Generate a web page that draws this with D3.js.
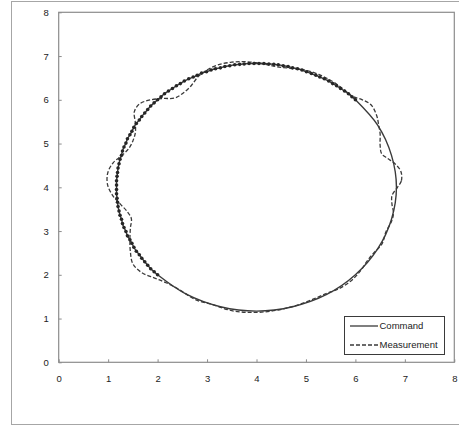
<!DOCTYPE html>
<html>
<head>
<meta charset="utf-8">
<script src="https://cdn.jsdelivr.net/npm/d3@7"></script>
<style>
  html, body { margin: 0; padding: 0; background: #fff; }
  svg { display: block; }
  text { font-family: "Liberation Sans", Arial, sans-serif; fill: #222; }
</style>
</head>
<body>
<svg id="chart" width="459" height="426"></svg>
<script>
// Axis ticks
const xTicks = [0, 1, 2, 3, 4, 5, 6, 7, 8];
const yTicks = [0, 1, 2, 3, 4, 5, 6, 7, 8];

// Command path: densely sampled half (with markers), sparse remaining half
const commandDenseX = [6.00,5.93,5.86,5.78,5.70,5.62,5.54,5.46,5.37,5.28,5.20,5.11,5.01,4.92,4.83,4.73,4.64,4.54,4.44,4.35,4.25,4.15,4.05,
  3.95,3.85,3.75,3.66,3.56,3.46,3.36,3.27,3.17,3.08,2.99,2.89,2.80,2.72,2.63,2.54,2.46,2.38,2.30,2.22,2.14,2.07,2.00,
  1.93,1.86,1.80,1.74,1.68,1.63,1.57,1.52,1.48,1.44,1.39,1.36,1.32,1.29,1.27,1.24,1.22,1.20,1.19,1.18,1.17,1.17,
  1.17,1.17,1.18,1.19,1.20,1.22,1.24,1.27,1.29,1.32,1.36,1.39,1.44,1.48,1.52,1.57,1.63,1.68,1.74,1.80,1.86,1.93,2.00];
const commandDenseY = [6.00,6.07,6.14,6.20,6.26,6.32,6.37,6.43,6.48,6.52,6.56,6.60,6.64,6.68,6.71,6.73,6.76,6.78,6.80,6.81,6.82,6.83,6.83,
  6.83,6.83,6.82,6.81,6.80,6.78,6.76,6.73,6.71,6.68,6.64,6.61,6.56,6.52,6.48,6.43,6.37,6.32,6.26,6.20,6.14,6.07,6.00,
  5.93,5.86,5.78,5.70,5.62,5.54,5.46,5.37,5.28,5.20,5.11,5.01,4.92,4.83,4.73,4.64,4.54,4.44,4.34,4.25,4.15,4.05,
  3.95,3.85,3.75,3.66,3.56,3.46,3.36,3.27,3.17,3.08,2.99,2.89,2.80,2.72,2.63,2.54,2.46,2.38,2.30,2.22,2.14,2.07,2.00];
const commandSparseX = [2.59,3.27,4.00,4.73,5.42,6.00,6.45,6.73,6.83,6.73,6.45];
const commandSparseY = [1.55,1.27,1.17,1.27,1.55,2.00,2.59,3.27,4.00,4.73,5.42];

// Measured path
const measX = [6.85,6.93,6.92,6.80,6.65,6.53,6.50,6.50,6.47,6.43,6.32,6.14,5.94,5.75,5.52,5.26,4.98,4.68,4.39,4.10,
  3.80,3.50,3.20,2.98,2.82,2.67,2.50,2.34,2.11,1.86,1.64,1.53,1.55,1.55,1.50,1.42,1.28,1.10,0.99,0.99,
  1.10,1.25,1.39,1.47,1.45,1.44,1.45,1.50,1.68,1.93,2.17,2.43,2.75,3.13,3.50,3.90,4.30,4.68,5.05,5.41,
  5.68,5.92,6.11,6.24,6.38,6.54,6.62,6.73,6.77,6.74,6.74];
const measY = [4.00,4.15,4.36,4.54,4.66,4.77,4.96,5.22,5.43,5.64,5.88,6.00,6.08,6.25,6.43,6.58,6.68,6.72,6.76,6.83,
  6.87,6.86,6.79,6.67,6.53,6.31,6.14,6.04,6.03,6.00,5.91,5.73,5.47,5.25,5.06,4.89,4.73,4.56,4.32,4.05,
  3.80,3.61,3.44,3.28,3.07,2.80,2.52,2.25,2.05,1.93,1.82,1.67,1.44,1.31,1.18,1.14,1.17,1.26,1.40,1.57,
  1.69,1.87,2.10,2.32,2.51,2.71,2.99,3.22,3.41,3.61,3.81];

const svg = d3.select("#chart");

// outer chart frame
svg.append("rect")
  .attr("x", 11.5).attr("y", 1.5)
  .attr("width", 460).attr("height", 423)
  .attr("fill", "none").attr("stroke", "#a6a6a6").attr("stroke-width", 1);

const x = d3.scaleLinear().domain([0, 8]).range([58.7, 454.3]);
const y = d3.scaleLinear().domain([0, 8]).range([362.3, 12.3]);

// plot area border
svg.append("rect")
  .attr("x", x(0)).attr("y", y(8))
  .attr("width", x(8) - x(0)).attr("height", y(0) - y(8))
  .attr("fill", "none").attr("stroke", "#8c8c8c").attr("stroke-width", 1.2);

const gx = svg.append("g")
  .attr("transform", `translate(0,${y(0)})`)
  .call(d3.axisBottom(x).tickValues(xTicks).tickFormat(d3.format("d"))
    .tickSizeInner(-3).tickSizeOuter(0).tickPadding(13));
const gy = svg.append("g")
  .attr("transform", `translate(${x(0)},0)`)
  .call(d3.axisLeft(y).tickValues(yTicks).tickFormat(d3.format("d"))
    .tickSizeInner(-3).tickSizeOuter(0).tickPadding(10));
[gx, gy].forEach(g => {
  g.select(".domain").remove();
  g.selectAll(".tick line").attr("stroke", "#8c8c8c");
  g.selectAll(".tick text").style("font-size", "9.5px").attr("fill", "#222");
});

const pts = (xs, ys) => xs.map((v, i) => [v, ys[i]]);
const commandDense = pts(commandDenseX, commandDenseY);
const commandAll = commandDense.concat(pts(commandSparseX, commandSparseY));
const meas = pts(measX, measY);

const line = d3.line()
  .x(d => x(d[0])).y(d => y(d[1]))
  .curve(d3.curveCatmullRomClosed.alpha(0.5));

// Command curve
svg.append("path")
  .attr("d", line(commandAll))
  .attr("fill", "none").attr("stroke", "#3a3a3a").attr("stroke-width", 1.4);

// Measurement curve
svg.append("path")
  .attr("d", line(meas))
  .attr("fill", "none").attr("stroke", "#3a3a3a").attr("stroke-width", 1.3)
  .attr("stroke-dasharray", "4,2");

// Command markers
svg.append("g").selectAll("circle")
  .data(commandDense)
  .join("circle")
  .attr("cx", d => x(d[0])).attr("cy", d => y(d[1]))
  .attr("r", 1.8).attr("fill", "#262626");

// Legend
const lg = svg.append("g");
lg.append("rect")
  .attr("x", 344.5).attr("y", 316.5).attr("width", 100).attr("height", 38)
  .attr("fill", "#fff").attr("stroke", "#3a3a3a").attr("stroke-width", 1);
const legendItems = [
  { name: "Command", dash: null, yy: 326 },
  { name: "Measurement", dash: "4,2", yy: 345 }
];
legendItems.forEach(it => {
  lg.append("line")
    .attr("x1", 350).attr("x2", 378).attr("y1", it.yy).attr("y2", it.yy)
    .attr("stroke", "#3a3a3a").attr("stroke-width", 1.3)
    .attr("stroke-dasharray", it.dash);
  lg.append("text")
    .attr("x", 379.5).attr("y", it.yy).attr("dy", "0.35em")
    .style("font-size", "9.5px").text(it.name);
});
</script>
</body>
</html>
